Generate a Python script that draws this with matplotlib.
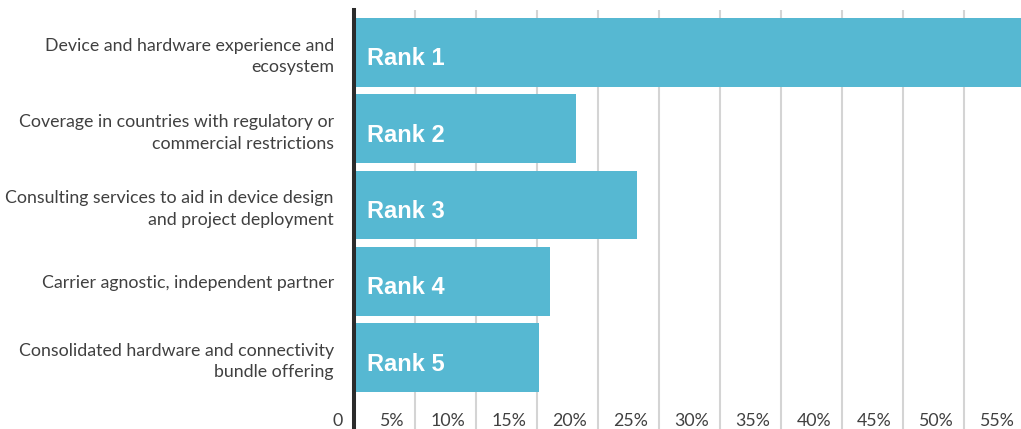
import matplotlib

matplotlib.use("Agg")
import matplotlib.pyplot as plt
from matplotlib.transforms import offset_copy, blended_transform_factory

# Share of respondents (%) per ranked factor
categories = [
    "Device and hardware experience and\necosystem",
    "Coverage in countries with regulatory or\ncommercial restrictions",
    "Consulting services to aid in device design\nand project deployment",
    "Carrier agnostic, independent partner",
    "Consolidated hardware and connectivity\nbundle offering",
]
ranks = ["Rank 1", "Rank 2", "Rank 3", "Rank 4", "Rank 5"]
values = [58.0, 18.2, 23.2, 16.1, 15.2]
ticks = [0, 5, 10, 15, 20, 25, 30, 35, 40, 45, 50, 55]
tick_labels = ["0"] + [f"{t}%" for t in ticks[1:]]

BAR_COLOR = "#56b8d2"
TEXT_COLOR = "#404040"
GRID_COLOR = "#d4d4d4"

W, H, DPI = 1021, 429, 100
fig = plt.figure(figsize=(W / DPI, H / DPI), dpi=DPI)
ax = fig.add_axes([354 / W, 0, (W - 354) / W, (H - 10) / H])

y = list(range(len(categories)))
ax.barh(y, values, height=0.9, color=BAR_COLOR, zorder=2)

ax.set_xlim(0, 54.67)
ax.set_ylim(4.937, -0.554)

# vertical grid and the zero axis line
for t in ticks[1:]:
    ax.axvline(t, color=GRID_COLOR, lw=1.5, zorder=1)
ax.axvline(0, color="#2b2b2b", lw=2.9, zorder=3, clip_on=False)

for s in ax.spines.values():
    s.set_visible(False)
ax.set_xticks([])

# category labels on the left
ax.set_yticks(y)
ax.set_yticklabels(categories, fontsize=12.8, fontfamily="Lato",
                   color=TEXT_COLOR, linespacing=1.42)
ax.tick_params(axis="y", length=0, pad=14.5)

# rank labels inside the bars
rank_tr = offset_copy(ax.transData, fig=fig, x=13, y=-13, units="dots")
for yi, r in zip(y, ranks):
    ax.text(0, yi, r, transform=rank_tr, ha="left", va="baseline",
            fontsize=17, fontweight="bold", fontfamily="Liberation Sans",
            color="white", zorder=4)

# x tick labels sit just left of their gridline at the bottom
tick_tr = offset_copy(blended_transform_factory(ax.transData, ax.transAxes),
                      fig=fig, x=-11, y=2.5, units="dots")
for t, lab in zip(ticks, tick_labels):
    ax.text(t, 0, lab, transform=tick_tr, ha="right", va="baseline",
            fontsize=12.8, fontfamily="Lato", color=TEXT_COLOR, clip_on=False)

fig.savefig("out.png", dpi=DPI)
